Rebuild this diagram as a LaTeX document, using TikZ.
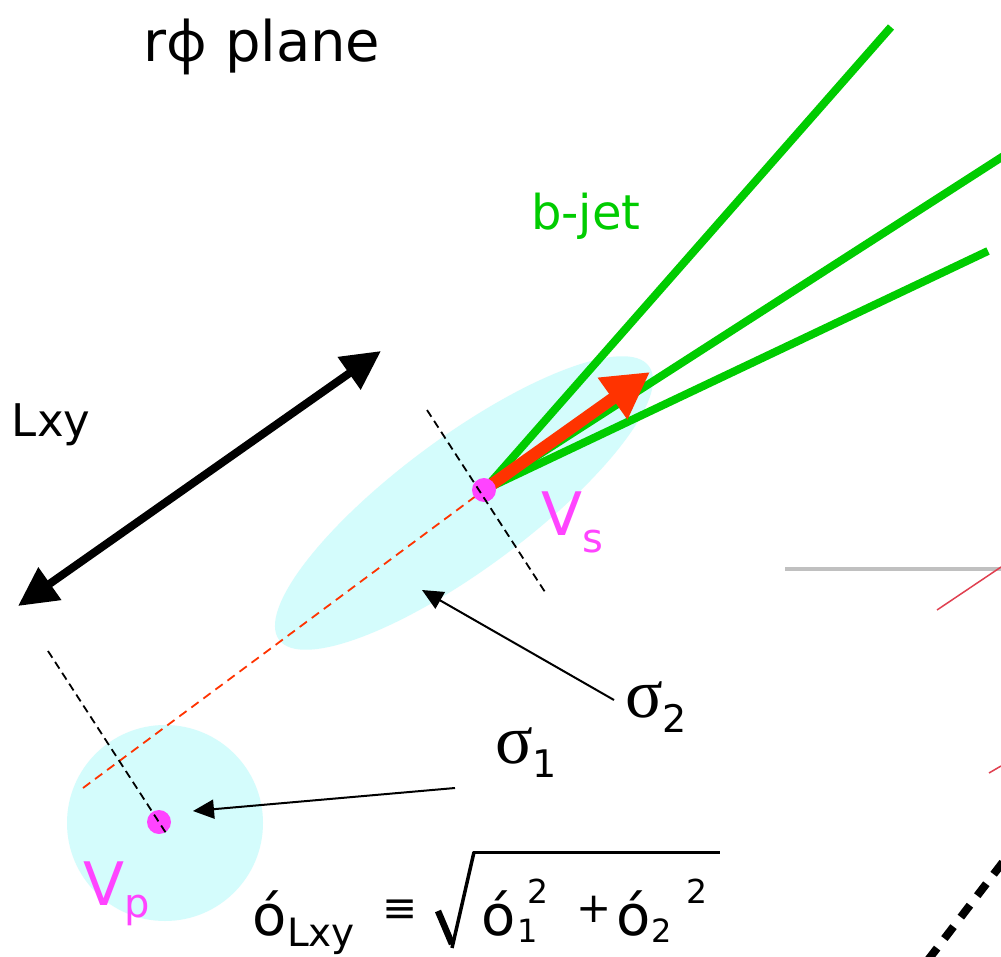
\documentclass[tikz,border=0pt]{standalone}
\usepackage{fontspec}
\setmainfont{DejaVu Sans}
\newfontfamily\sigfont{Liberation Serif}
\newfontfamily\phifont{Noto Sans}
\usetikzlibrary{arrows.meta}
\definecolor{cyanfill}{HTML}{D4FCFC}
\definecolor{vmag}{HTML}{FF44FF}
\definecolor{jetgreen}{HTML}{00CC00}
\definecolor{arrred}{HTML}{FF3300}
\definecolor{fraggray}{HTML}{C0C0C0}
\definecolor{fragred}{HTML}{E04050}
\begin{document}
\begin{tikzpicture}[x=1pt,y=-1pt,
  txt/.style={inner sep=0pt, outer sep=0pt, anchor=base west},
  dot/.style={circle, fill=vmag, minimum size=24pt, inner sep=0pt},
  jet/.style={line width=8pt, draw=jetgreen},
  perp/.style={draw=black, line width=1.8pt, dash pattern=on 8pt off 5pt},
  flight/.style={draw=arrred, line width=1.8pt, dash pattern=on 9pt off 6pt},
  pointer/.style={line width=2pt, -{Triangle[length=21pt,width=19pt]}},
  fs/.style={font=\fontsize{#1}{#1}\selectfont},
]
\useasboundingbox (0,0) rectangle (1001,957);
\fill[white] (0,0) rectangle (1001,957);

% coordinates
\coordinate (vsc) at (484,490);
\coordinate (vpc) at (159,822);
\coordinate (j1) at (891,27);
\coordinate (j2) at (1005,155);
\coordinate (j3) at (988,251);
\coordinate (bt) at (650,372);
\coordinate (la) at (18,606);
\coordinate (lb) at (381,351);
\coordinate (fa) at (83,788);
\coordinate (p1a) at (48,651);
\coordinate (p1b) at (166,833);
\coordinate (p2a) at (427,410);
\coordinate (p2b) at (545,592);
\coordinate (s2start) at (614,700);
\coordinate (s2tip) at (422,590);
\coordinate (s1start) at (455,788);
\coordinate (s1tip) at (193,811);

% error regions
\fill[cyanfill, rotate around={36.5:(464,503)}] (464,503) ellipse [x radius=230pt, y radius=66pt];
\fill[cyanfill] (165,823) circle [radius=98pt];

% flight path
\draw[flight] (fa) -- (vsc);

% jet tracks
\draw[jet] (vsc) -- (j1);
\draw[jet] (vsc) -- (j2);
\draw[jet] (vsc) -- (j3);

% b direction arrow
\draw[arrred, line width=12pt, -{Triangle[length=46pt,width=48pt]}] (vsc) -- (bt);

% Lxy arrow
\draw[line width=8pt, {Triangle[length=39pt,width=38pt]}-{Triangle[length=39pt,width=38pt]}] (la) -- (lb);

% vertices
\node[dot] (vs) at (vsc) {};
\node[dot] (vp) at (vpc) {};

% perpendicular dashed lines
\draw[perp] (p1a) -- (p1b);
\draw[perp] (p2a) -- (p2b);

% pointers
\draw[pointer] (s2start) -- (s2tip);
\draw[pointer] (s1start) -- (s1tip);

% labels
\node[txt, anchor=base, fs=56] (title) at (262,62) {r{\phifont φ} plane};
\node[txt, fs=48, text=jetgreen] (bjet) at (531,230) {b-jet};
\node[txt, fs=45] (lxy) at (12,436) {Lxy};
\node[txt, fs=60, text=vmag] (vslab) at (541,535) {V\raisebox{-17pt}{\fontsize{40}{40}\selectfont s}};
\node[txt, fs=60, text=vmag] (vplab) at (83,905) {V\raisebox{-12pt}{\fontsize{40}{40}\selectfont p}};
\node[txt, fs=70] (sig2) at (625,717) {{\sigfont σ}\raisebox{-15pt}{\fontsize{38}{38}\selectfont 2}};
\node[txt, fs=70] (sig1) at (495,763) {{\sigfont σ}\raisebox{-14pt}{\fontsize{38}{38}\selectfont 1}};

% formula
\node[txt, fs=56] (fo) at (252,935) {ó};
\node[txt, fs=39] (fsub) at (287,946) {Lxy};
\node[txt, anchor=center, fs=42] (feq) at (400,911) {≡};
\draw[line width=6.5pt] (438,911) -- (452,944);
\draw[line width=3.5pt] (452,948) -- (474,852);
\draw[line width=3pt] (473,852) -- (720,852);
\node[txt, fs=56] (fo1) at (481,935) {ó};
\node[txt, fs=32] (fsub1) at (517,942) {1};
\node[txt, fs=33] (fsup1) at (527,903) {2};
\node[txt, fs=42] (fplus) at (576,922) {+};
\node[txt, fs=56] (fo2) at (616,935) {ó};
\node[txt, fs=32] (fsub2) at (651,942) {2};
\node[txt, fs=33] (fsup2) at (686,903) {2};

% cropped fragments at the right edge
\coordinate (ga) at (785,569);
\coordinate (gb) at (1001,569);
\coordinate (ra) at (937,610);
\coordinate (rb) at (1001,567);
\coordinate (rc) at (989,773);
\coordinate (rd) at (1001,766);
\coordinate (ka) at (928,960);
\coordinate (kb) at (1003,862);
\draw[fraggray, line width=4pt] (ga) -- (gb);
\draw[fragred, line width=1.5pt] (ra) -- (rb);
\draw[fragred, line width=1.5pt] (rc) -- (rd);
\draw[line width=8pt, dash pattern=on 15pt off 12pt] (ka) -- (kb);
\end{tikzpicture}
\end{document}
